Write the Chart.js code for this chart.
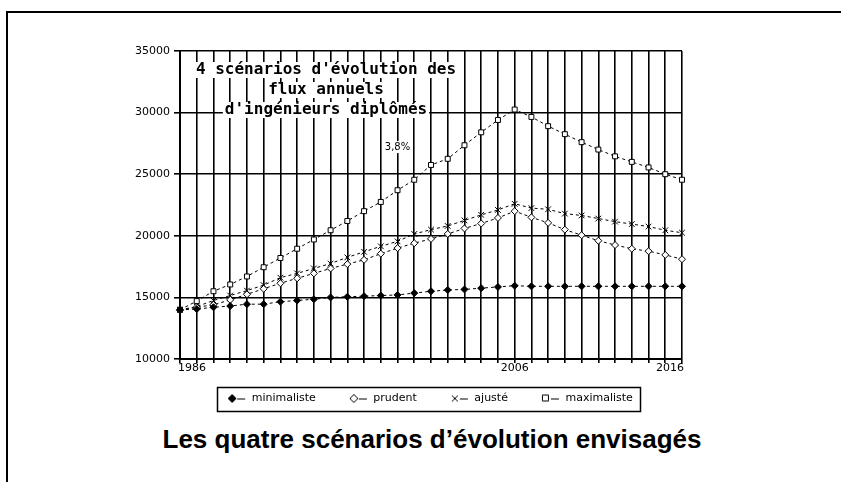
<!DOCTYPE html>
<html>
<head>
<meta charset="utf-8">
<script src="https://cdn.jsdelivr.net/npm/chart.js@4.4.0/dist/chart.umd.min.js"></script>
<style>
body { margin:0; background:#fff; width:841px; height:482px; overflow:hidden; position:relative; font-family:"Liberation Sans", Arial, sans-serif; }
#cadre { position:absolute; left:6px; top:11px; width:835px; height:471px; border-top:2px solid #000; border-left:2px solid #000; box-sizing:border-box; }
#zone { position:absolute; left:0; top:0; width:841px; height:420px; }
#legende { position:absolute; left:0; width:864px; top:424px; text-align:center; font-weight:bold; font-size:26px; color:#000; }
</style>
</head>
<body>
<div id="cadre"></div>
<div id="zone"><canvas id="graphique"></canvas></div>
<div id="legende">Les quatre scénarios d’évolution envisagés</div>
<script>
// années (une par ligne verticale de la grille)
var annees = ["1986","1987","1988","1989","1990","1991","1992","1993","1994","1995","1996",
  "1997","1998","1999","2000","2001","2002","2003","2004","2005","2006",
  "2007","2008","2009","2010","2011","2012","2013","2014","2015","2016"];
var anneesAffichees = ["1986", "2006", "2016"];

var nomsScenarios = ["minimaliste", "prudent", "ajusté", "maximaliste"];

// flux annuels d'ingénieurs diplômés
var minimaliste = [14000,14050,14200,14300,14450,14450,14650,14750,14850,15000,15050,
  15100,15150,15200,15350,15500,15600,15650,15750,15850,15950,
  15900,15900,15900,15900,15900,15900,15900,15900,15900,15900];
var prudent = [13950,14200,14400,14800,15250,15700,16150,16550,16950,17350,17700,
  18050,18550,19000,19400,19750,20150,20600,21000,21450,22000,
  21500,21050,20500,20050,19600,19250,18950,18750,18450,18100];
var ajuste = [14000,14250,14750,15150,15550,16000,16600,16950,17350,17750,18250,
  18700,19150,19550,20150,20500,20800,21250,21700,22100,22600,
  22250,22150,21800,21650,21400,21150,20950,20750,20450,20250];
var maximaliste = [14000,14700,15500,16050,16700,17450,18200,18950,19700,20450,21200,
  22000,22750,23700,24550,25750,26250,27350,28400,29400,30250,
  29650,28900,28250,27600,27000,26450,26000,25550,25000,24550];

var titreLignes = ["4 scénarios d'évolution des", "flux annuels", "d'ingénieurs diplômés"];
var tauxTexte = "3,8%";

var styles = [
  { pointStyle: "rectRot", fond: "#000", rayon: 3.5 },
  { pointStyle: "rectRot", fond: "#fff", rayon: 3.5 },
  { pointStyle: "crossRot", fond: "#fff", rayon: 4 },
  { pointStyle: "rect", fond: "#fff", rayon: 3.5 }
];

var VIDE = 24; // blanc laissé avant chaque symbole de légende

// petite image "marqueur + tiret" pour la légende
function imageLegende(st) {
  var c = document.createElement("canvas");
  c.width = VIDE + 18; c.height = 10;
  var g = c.getContext("2d");
  g.translate(VIDE, 0);
  g.strokeStyle = "#000"; g.fillStyle = st.fond; g.lineWidth = 1;
  g.beginPath(); g.moveTo(9, 5.5); g.lineTo(17, 5.5); g.stroke();
  g.beginPath();
  if (st.pointStyle === "rectRot") {
    g.moveTo(4, 1); g.lineTo(8, 5); g.lineTo(4, 9); g.lineTo(0, 5); g.closePath();
    g.fill(); g.stroke();
  } else if (st.pointStyle === "crossRot") {
    g.moveTo(1, 2); g.lineTo(7, 8); g.moveTo(7, 2); g.lineTo(1, 8); g.stroke();
  } else {
    g.rect(0.5, 1.5, 6, 6); g.fill(); g.stroke();
  }
  return c;
}

var series = [minimaliste, prudent, ajuste, maximaliste];
var datasets = series.map(function (valeurs, i) {
  return {
    label: nomsScenarios[i],
    data: valeurs,
    borderColor: "#000",
    borderWidth: 1,
    borderDash: [3, 3],
    pointStyle: styles[i].pointStyle,
    pointRadius: styles[i].rayon,
    pointBackgroundColor: styles[i].fond,
    pointBorderColor: "#000",
    pointBorderWidth: 1,
    tension: 0
  };
});

// textes dans le graphique + étiquettes d'années + cadre de la légende
var habillage = {
  id: "habillage",
  afterDraw: function (chart) {
    var ctx = chart.ctx;
    var zone = chart.chartArea;
    var sx = chart.scales.x, sy = chart.scales.y;
    ctx.save();

    // titre dans la zone de tracé
    ctx.font = "bold 16px 'DejaVu Sans Mono'";
    ctx.textAlign = "center";
    ctx.textBaseline = "middle";
    titreLignes.forEach(function (t, k) {
      var cx = zone.left + 146, cy = zone.top + 19 + k * 20;
      var w = ctx.measureText(t).width;
      ctx.fillStyle = "#fff";
      ctx.fillRect(cx - w / 2 - 2, cy - 8, w + 4, 16);
      ctx.fillStyle = "#000";
      ctx.fillText(t, cx, cy);
    });

    // taux de croissance
    ctx.font = "10px 'DejaVu Sans'";
    var tx = sx.getPixelForValue(13), ty = sy.getPixelForValue(27200);
    var tw = ctx.measureText(tauxTexte).width;
    ctx.fillStyle = "#fff";
    ctx.fillRect(tx - tw / 2 - 2, ty - 6, tw + 4, 12);
    ctx.fillStyle = "#000";
    ctx.fillText(tauxTexte, tx, ty);

    // années sous l'axe
    ctx.font = "11px 'DejaVu Sans'";
    ctx.textBaseline = "top";
    anneesAffichees.forEach(function (a, k) {
      var px = sx.getPixelForValue(annees.indexOf(a));
      ctx.textAlign = k === 0 ? "left" : (k === anneesAffichees.length - 1 ? "right" : "center");
      var dx = k === 0 ? -2 : (k === anneesAffichees.length - 1 ? 2 : 0);
      ctx.fillText(a, px + dx, zone.bottom + 4);
    });

    // cadre autour de la légende
    var boites = chart.legend.legendHitBoxes;
    if (boites && boites.length) {
      var g = Infinity, d = -Infinity, cyl = 0;
      boites.forEach(function (b) {
        g = Math.min(g, b.left); d = Math.max(d, b.left + b.width);
        cyl = b.top + b.height / 2;
      });
      g += VIDE - 11;
      ctx.strokeStyle = "#000";
      ctx.lineWidth = 1.5;
      ctx.strokeRect(Math.round(g) + 0.5, Math.round(cyl - 12) + 0.5, Math.round(d + 7 - g), 24);
    }
    ctx.restore();
  }
};

var ctx = document.getElementById("graphique");
var graphique = new Chart(ctx, {
  type: "line",
  data: { labels: annees, datasets: datasets },
  options: {
    responsive: true,
    maintainAspectRatio: false,
    animation: false,
    layout: { padding: { left: 40, right: 44, top: 51, bottom: 6 } },
    plugins: {
      title: { display: false },
      tooltip: { enabled: false },
      legend: {
        position: "bottom",
        labels: {
          usePointStyle: true,
          pointStyleWidth: VIDE + 18,
          padding: 10,
          color: "#000",
          font: { family: "DejaVu Sans", size: 11 },
          generateLabels: function (chart) {
            var items = Chart.defaults.plugins.legend.labels.generateLabels(chart);
            items.forEach(function (it, i) { it.pointStyle = imageLegende(styles[i]); });
            return items;
          }
        }
      }
    },
    scales: {
      x: {
        offset: false,
        grid: { color: "#000", lineWidth: 1.6, tickLength: 4 },
        border: { color: "#000", width: 2 },
        ticks: { display: false },
        afterFit: function (s) { s.height = 24; }
      },
      y: {
        min: 10000,
        max: 35000,
        ticks: {
          stepSize: 5000, color: "#000", padding: 4,
          font: { family: "DejaVu Sans", size: 11 },
          callback: function (v) { return String(v); }
        },
        grid: { color: "#000", lineWidth: 1.6, tickLength: 6 },
        border: { color: "#000", width: 2 },
        afterFit: function (s) { s.width = 140; }
      },
      y2: {
        position: "right",
        display: true,
        grid: { display: false, drawTicks: false },
        border: { display: false },
        ticks: { display: false },
        afterFit: function (s) { s.width = 115; }
      }
    }
  },
  plugins: [habillage]
});
</script>
</body>
</html>
